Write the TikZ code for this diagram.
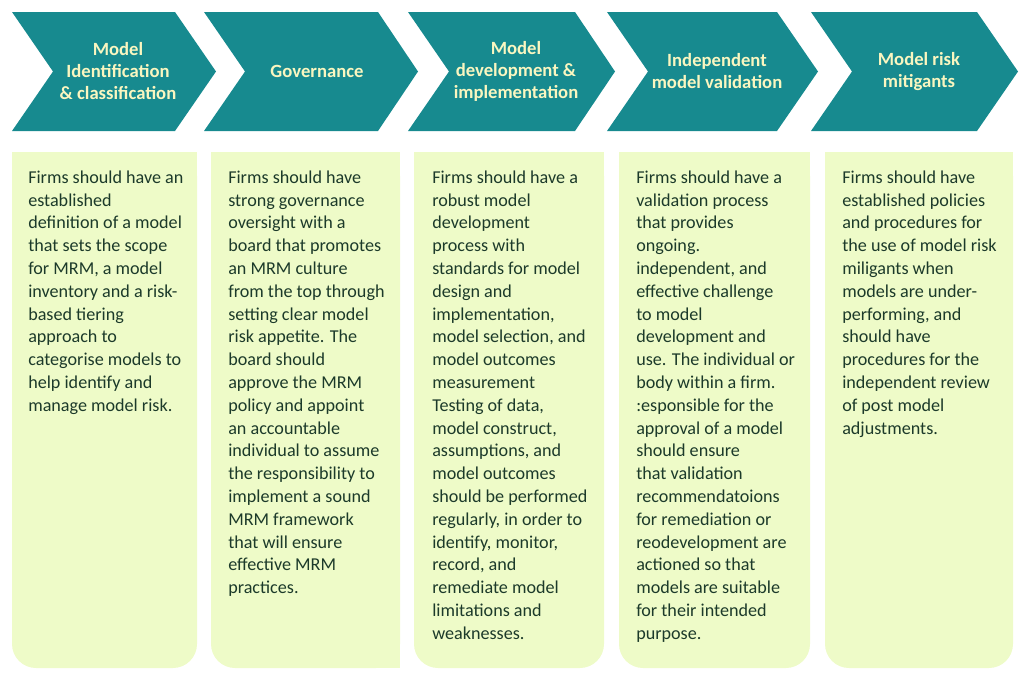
\documentclass[tikz,border=0pt]{standalone}
\usepackage{fontspec}
\setmainfont{Carlito}
\definecolor{tealc}{RGB}{23,138,143}
\definecolor{bodybg}{RGB}{238,251,200}
\definecolor{bodytxt}{RGB}{28,58,42}
\definecolor{headtxt}{RGB}{250,246,192}
\tikzset{
  chev/.style={fill=tealc},
  bodyfill/.style={fill=bodybg},
  headtext/.style={text=headtxt, font=\bfseries\fontsize{14}{16.5}\selectfont, align=center, inner sep=0pt},
  bodytext/.style={text=bodytxt, font=\fontsize{13.6}{17.1}\selectfont, align=left, anchor=north west, inner sep=0pt},
}
\begin{document}
\begin{tikzpicture}[x=0.75pt,y=-0.75pt]
\useasboundingbox (0,0) rectangle (1024,683);
% chevrons
\foreach \xa/\xb/\xc in {12/175/216, 204/378/418, 408/575/615, 607/777/818, 811/977/1018}{
  \fill[chev] (\xa,12) -- (\xb,12) -- (\xc,71.5) -- (\xb,131) -- (\xa,131) -- ({\xa+41},71.5) -- cycle;
}
\node[headtext] (h1) at (118,71.5) {Model\\Identification\\\& classification};
\node[headtext] (h2) at (317,71.5) {Governance};
\node[headtext] (h3) at (516,71.5) {Model\\development \&\\implementation};
\node[headtext] (h4) at (717,71.5) {Independent\\model validation};
\node[headtext] (h5) at (919,71.5) {Model risk\\mitigants};
% body boxes
\foreach \xa/\xb in {12/197, 211/400, 414/604, 619/810, 825/1013}{
  \fill[bodyfill, rounded corners=18pt] (\xa,152) rectangle (\xb,668);
  \fill[bodyfill] (\xa,152) rectangle (\xb,400);
}
\fill[bodyfill] (306,400) rectangle (400,668);
% body texts
\node[bodytext] (t1) at (28,170.5) {Firms should have an\\established\\definition of a model\\that sets the scope\\for MRM, a model\\inventory and a risk-\\based tiering\\approach to\\categorise models to\\help identify and\\manage model risk.};
\node[bodytext] (t2) at (228,170.5) {Firms should have\\strong governance\\oversight with a\\board that promotes\\an MRM culture\\from the top through\\setting clear model\\risk appetite. The\\board should\\approve the MRM\\policy and appoint\\an accountable\\individual to assume\\the responsibility to\\implement a sound\\MRM framework\\that will ensure\\effective MRM\\practices.};
\node[bodytext] (t3) at (432,170.5) {Firms should have a\\robust model\\development\\process with\\standards for model\\design and\\implementation,\\model selection, and\\model outcomes\\measurement\\Testing of data,\\model construct,\\assumptions, and\\model outcomes\\should be performed\\regularly, in order to\\identify, monitor,\\record, and\\remediate model\\limitations and\\weaknesses.};
\node[bodytext] (t4) at (636,170.5) {Firms should have a\\validation process\\that provides\\ongoing.\\independent, and\\effective challenge\\to model\\development and\\use. The individual or\\body within a firm.\\:esponsible for the\\approval of a model\\should ensure\\that validation\\recommendatoions\\for remediation or\\reodevelopment are\\actioned so that\\models are suitable\\for their intended\\purpose.};
\node[bodytext] (t5) at (842,170.5) {Firms should have\\established policies\\and procedures for\\the use of model risk\\miligants when\\models are under-\\performing, and\\should have\\procedures for the\\independent review\\of post model\\adjustments.};
\end{tikzpicture}
\end{document}
